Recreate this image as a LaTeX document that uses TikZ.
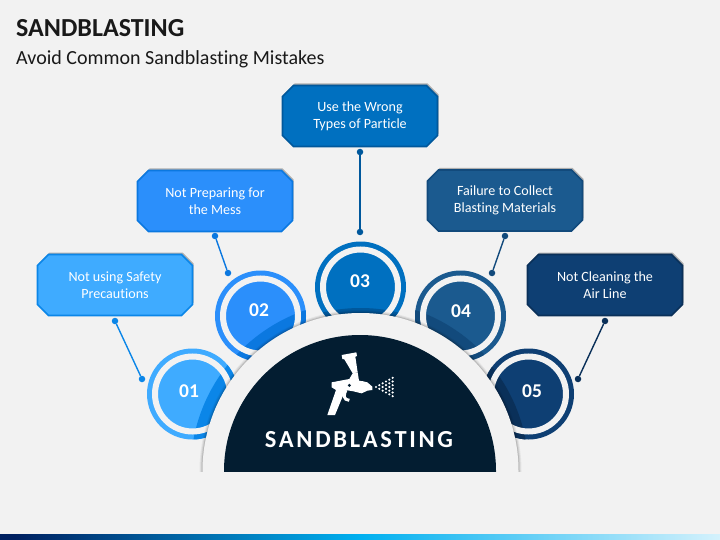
\documentclass[tikz,border=0pt]{standalone}
\usepackage{fontspec}
\setmainfont[Ligatures=NoCommon]{Carlito}
\usetikzlibrary{shapes.misc,shadows}

\definecolor{pagegray}{HTML}{F2F2F2}
\definecolor{domenavy}{HTML}{031D31}
\definecolor{fillone}{HTML}{3FABFF}
\definecolor{edgeone}{HTML}{0B86E8}
\definecolor{filltwo}{HTML}{2B8FFB}
\definecolor{edgetwo}{HTML}{0B78E0}
\definecolor{fillthree}{HTML}{0070C0}
\definecolor{edgethree}{HTML}{00589C}
\definecolor{fillfour}{HTML}{1B5A8F}
\definecolor{edgefour}{HTML}{124A7C}
\definecolor{fillfive}{HTML}{0E3F73}
\definecolor{edgefive}{HTML}{0A3059}

\pgfdeclarehorizontalshading{barshade}{100bp}{rgb(0bp)=(0,.125,.376);
  rgb(26bp)=(0,.125,.376);
  rgb(50bp)=(0,.69,.94);
  rgb(80bp)=(1,1,1);
  rgb(100bp)=(.05,.56,.85)}

\tikzset{
  labelbox/.style 2 args={chamfered rectangle, chamfered rectangle corners=all,
    chamfered rectangle xsep=5.5pt, chamfered rectangle ysep=5.5pt,
    minimum width=155pt, minimum height=61pt, inner sep=0pt, align=center,
    fill=#1, draw=#2, line width=1.6pt, text=white,
    font=\fontsize{14.1}{17}\selectfont,
    general shadow={shadow xshift=1pt, shadow yshift=2pt, fill=black, opacity=.28}},
  numdisc/.style={circle, fill=#1, minimum size=91pt, inner sep=0pt},
  numtext/.style={inner sep=0pt, text=white, font=\bfseries\fontsize{19.5}{20}\selectfont},
  gapring/.style={draw=pagegray, line width=6pt},
  pin/.style={circle, fill=#1, minimum size=6.5pt, inner sep=0pt}
}

\begin{document}
\begin{tikzpicture}[x=1pt, y=-1pt]

\useasboundingbox (0,0) rectangle (720,540);
\fill [pagegray] (0,0) rectangle (720,540);

% titles ---
\node [anchor=west, inner sep=0pt, font=\bfseries\fontsize{26}{28}\selectfont, text=black!90] (title) at (16,28) {SANDBLASTING};
\node [anchor=west, inner sep=0pt, font=\fontsize{20}{22}\selectfont, text=black!90] (subtitle) at (16,59) {Avoid Common Sandblasting Mistakes};

% boxes ---
\node [labelbox={fillone}{edgeone}] (boxa) at (115,285) {Not using Safety \\ Precautions};
\node [labelbox={filltwo}{edgetwo}] (boxb) at (215,201) {Not Preparing for \\ the Mess};
\node [labelbox={fillthree}{edgethree}] (boxc) at (360,116) {Use the Wrong \\ Types of Particle};
\node [labelbox={fillfour}{edgefour}] (boxd) at (505,200.5) {Failure to Collect \\ Blasting Materials};
\node [labelbox={fillfive}{edgefive}] (boxe) at (605,285) {Not Cleaning the \\ Air Line};

% pins and connectors ---
\node [pin=edgeone] (pina) at (115,321) {};
\node [pin=edgeone] (pinb) at (142,379) {};
\node [pin=edgetwo] (pinc) at (215,236) {};
\node [pin=edgetwo] (pind) at (228,273) {};
\node [pin=edgethree] (pine) at (360,152) {};
\node [pin=edgethree] (pinf) at (360,232) {};
\node [pin=edgefour] (ping) at (505,236) {};
\node [pin=edgefour] (pinh) at (492,273) {};
\node [pin=edgefive] (pini) at (605,321) {};
\node [pin=edgefive] (pinj) at (578,379) {};

\draw [edgeone, line width=1.4pt] (pina) -- (pinb);
\draw [edgetwo, line width=1.4pt] (pinc) -- (pind);
\draw [edgethree, line width=1.4pt] (pine) -- (pinf);
\draw [edgefour, line width=1.4pt] (ping) -- (pinh);
\draw [edgefive, line width=1.4pt] (pini) -- (pinj);

% number discs ---
\node [numdisc=fillone] (numa) at (192.5,394) {};
\node [numdisc=filltwo] (numb) at (260.5,316) {};
\node [numdisc=fillthree] (numc) at (360.5,287) {};
\node [numdisc=fillfour] (numd) at (460.5,316) {};
\node [numdisc=fillfive] (nume) at (528.5,394) {};

% darker crescents next to the dome
\begin{scope}
\clip (numa.center) circle [radius=45.5];
\fill [edgeone] (360.5,471) circle [radius=170];
\end{scope}
\begin{scope}
\clip (numb.center) circle [radius=45.5];
\fill [edgetwo] (360.5,471) circle [radius=170];
\end{scope}
\begin{scope}
\clip (numc.center) circle [radius=45.5];
\fill [edgethree] (360.5,471) circle [radius=163];
\end{scope}
\begin{scope}
\clip (numd.center) circle [radius=45.5];
\fill [edgefour] (360.5,471) circle [radius=170];
\end{scope}
\begin{scope}
\clip (nume.center) circle [radius=45.5];
\fill [edgefive] (360.5,471) circle [radius=168];
\end{scope}

\draw [gapring] (numa.center) circle [radius=37.5];
\draw [gapring] (numb.center) circle [radius=37.5];
\draw [gapring] (numc.center) circle [radius=37.5];
\draw [gapring] (numd.center) circle [radius=37.5];
\draw [gapring] (nume.center) circle [radius=37.5];

\node [numtext] (texta) at (189,391) {01};
\node [numtext] (textb) at (259,310) {02};
\node [numtext] (textc) at (360,281) {03};
\node [numtext] (textd) at (461,311) {04};
\node [numtext] (texte) at (532,391) {05};

% dome ---
\begin{scope}
\clip (190,300) rectangle (530,471);
\fill [black, opacity=.05] (360.5,471) circle [radius=161];
\fill [black, opacity=.08] (360.5,471) circle [radius=160];
\fill [black, opacity=.12] (360.5,471) circle [radius=159];
\fill [pagegray] (360.5,471) circle [radius=158];
\fill [domenavy] (360,471) circle [radius=136];
\end{scope}
\node [inner sep=0pt, text=white, font=\bfseries\fontsize{24.5}{26}\selectfont\addfontfeatures{LetterSpace=11}] (domelabel) at (359,440) {SANDBLASTING};

% spray gun ---
\begin{scope}[shift={(310,340)}, scale=1/3]
\fill [white] (95,45) -- (139,37) -- (141,48) -- (136,50) -- (143,97) -- (128,100) -- (103,58) -- (97,57) -- cycle;
\fill [white] (65,127) -- (118,117) -- (128,100) -- (143,97) -- (147,122) -- (160,124) -- (172,127) -- (187,140) -- (187,150) -- (172,152) -- (155,160) -- (130,154) -- (106,150) -- (75,225) -- (52,225) -- (78,150) -- (65,142) -- cycle;
\draw [white, line width=3pt] (108,150) .. controls (100,165) and (100,180) .. (118,181);
\fill [domenavy] (118,136) circle [radius=5];
\foreach \i in {0,...,5}
  \foreach \j in {0,...,\i}
    \fill [white] ({198+10*\i},{141+(\j-\i/2)*11}) circle [radius=3.6];
\end{scope}

% bottom bar ---
\shade [shading=barshade] (0,534) rectangle (720,540);

\end{tikzpicture}
\end{document}
